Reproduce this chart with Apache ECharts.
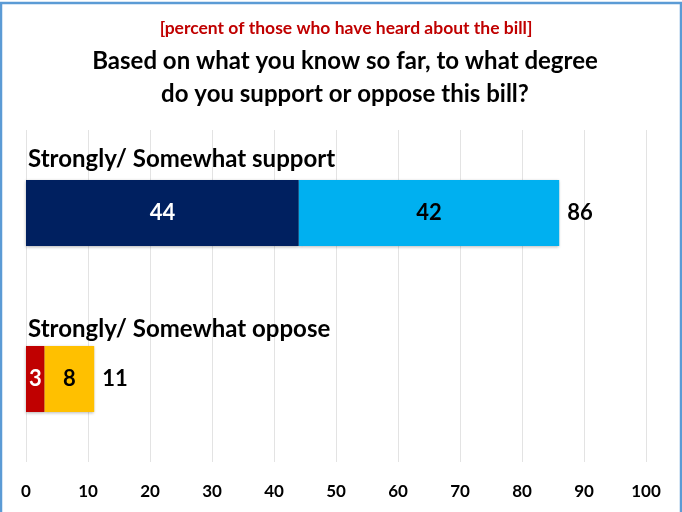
<!DOCTYPE html>
<html>
<head>
<meta charset="utf-8">
<script src="https://cdn.jsdelivr.net/npm/echarts@6/dist/echarts.min.js"></script>
<style>
html,body{margin:0;padding:0;background:#fff;}
#chart{width:682px;height:512px;}
</style>
</head>
<body>
<div id="chart"></div>
<script>
const categories = ['Strongly/ Somewhat support', 'Strongly/ Somewhat oppose'];
const stronglyValues = [44, 3];
const somewhatValues = [42, 8];
const totalValues = [86, 11];
const stronglyColors = ['#002060', '#C00000'];
const somewhatColors = ['#00B0F0', '#FFC000'];
const stronglyLabelColors = ['#ffffff', '#ffffff'];
const xTicks = [0, 10, 20, 30, 40, 50, 60, 70, 80, 90, 100];

const FONT = 'Lato, "Open Sans", sans-serif';
const chart = echarts.init(document.getElementById('chart'));
const catLabelDistance = [9, 5];

chart.setOption({
  animation: false,
  backgroundColor: '#ffffff',
  title: [
    {
      text: '[percent of those who have heard about the bill]',
      left: 341, top: 14, textAlign: 'center',
      textStyle: {color: '#C00000', fontSize: 17.5, fontWeight: 'bold', fontFamily: FONT}
    },
    {
      text: 'Based on what you know so far, to what degree',
      left: 340, top: 44, textAlign: 'center',
      textStyle: {color: '#000000', fontSize: 24, fontWeight: 'bold', fontFamily: FONT}
    },
    {
      text: 'do you support or oppose this bill?',
      left: 340, top: 77, textAlign: 'center',
      textStyle: {color: '#000000', fontSize: 24, fontWeight: 'bold', fontFamily: FONT}
    }
  ],
  graphic: [{
    type: 'rect',
    shape: {x: 1, y: 3, width: 680, height: 530},
    style: {fill: 'none', stroke: '#5B9BD5', lineWidth: 2.5},
    silent: true
  }],
  grid: {left: 26, right: 36, top: 130, bottom: 50, containLabel: false},
  xAxis: {
    type: 'value', min: 0, max: 100, interval: 10,
    axisLine: {show: false}, axisTick: {show: false},
    splitLine: {show: true, lineStyle: {color: '#e3e3e3', width: 1}},
    axisLabel: {
      margin: 21, color: '#000', fontSize: 17, fontWeight: 'bold', fontFamily: FONT,
      formatter: v => xTicks.includes(v) ? String(v) : ''
    }
  },
  yAxis: {
    type: 'category', data: categories, inverse: true,
    axisLine: {show: false}, axisTick: {show: false},
    axisLabel: {show: false}
  },
  series: [
    {
      type: 'bar', stack: 's', barWidth: 66,
      data: categories.map((c, i) => ({value: 0, label: {distance: catLabelDistance[i]}})),
      itemStyle: {color: 'transparent'},
      label: {
        show: true, position: 'top', align: 'left', offset: [2, 0],
        color: '#000', fontSize: 24, fontWeight: 'bold', fontFamily: FONT,
        formatter: p => categories[p.dataIndex]
      }
    },
    {
      type: 'bar', stack: 's', barWidth: 66,
      data: stronglyValues.map((v, i) => ({value: v, itemStyle: {color: stronglyColors[i]},
        label: {color: stronglyLabelColors[i]}})),
      label: {show: true, position: 'inside', fontSize: 22, fontWeight: 'bold', fontFamily: FONT},
      itemStyle: {shadowColor: 'rgba(0,0,0,0.3)', shadowBlur: 3, shadowOffsetY: 1}
    },
    {
      type: 'bar', stack: 's', barWidth: 66,
      data: somewhatValues.map((v, i) => ({value: v, itemStyle: {color: somewhatColors[i]}})),
      label: {show: true, position: 'inside', color: '#000', fontSize: 22, fontWeight: 'bold', fontFamily: FONT},
      itemStyle: {shadowColor: 'rgba(0,0,0,0.3)', shadowBlur: 3, shadowOffsetY: 1}
    },
    {
      type: 'bar', stack: 's', barWidth: 66,
      data: totalValues.map(() => 0),
      itemStyle: {color: 'transparent'},
      label: {
        show: true, position: 'right', distance: 8, color: '#000', fontSize: 22, fontWeight: 'bold', fontFamily: FONT,
        formatter: p => String(totalValues[p.dataIndex])
      }
    }
  ]
});
</script>
</body>
</html>
